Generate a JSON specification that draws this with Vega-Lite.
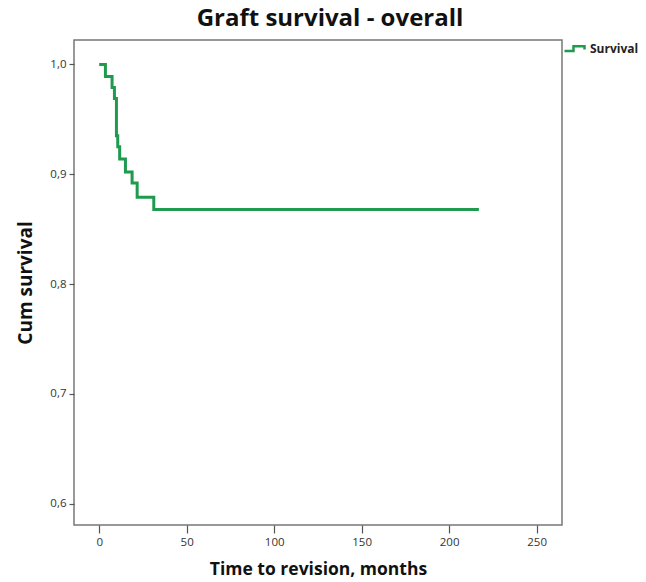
{
  "$schema": "https://vega.github.io/schema/vega-lite/v6.json",
  "autosize": "none",
  "width": 488,
  "height": 485,
  "padding": {"left": 74, "top": 40, "right": 84, "bottom": 57},
  "background": "white",
  "title": {
    "text": "Graft survival - overall",
    "font": "Open Sans",
    "fontSize": 24,
    "fontWeight": "bold",
    "color": "#111",
    "anchor": "middle",
    "dx": 12,
    "offset": 6
  },
  "config": {
    "view": {"stroke": "#777", "strokeWidth": 1.5},
    "axis": {
      "domain": false,
      "grid": false,
      "tickColor": "#555",
      "tickWidth": 1.2,
      "labelFont": "Open Sans",
      "labelFontSize": 11.5,
      "labelColor": "#333",
      "titleFont": "Open Sans",
      "titleFontWeight": "bold",
      "titleColor": "#111"
    }
  },
  "data": {
    "values": [
      {"t": 0, "s": 1.0, "g": "Survival"},
      {"t": 3.55, "s": 0.989, "g": "Survival"},
      {"t": 7.36, "s": 0.979, "g": "Survival"},
      {"t": 8.7, "s": 0.969, "g": "Survival"},
      {"t": 9.85, "s": 0.935, "g": "Survival"},
      {"t": 10.6, "s": 0.925, "g": "Survival"},
      {"t": 11.7, "s": 0.914, "g": "Survival"},
      {"t": 15.0, "s": 0.902, "g": "Survival"},
      {"t": 18.8, "s": 0.892, "g": "Survival"},
      {"t": 21.7, "s": 0.879, "g": "Survival"},
      {"t": 31.2, "s": 0.868, "g": "Survival"},
      {"t": 217, "s": 0.868, "g": "Survival"}
    ]
  },
  "mark": {"type": "line", "interpolate": "step-after", "strokeWidth": 3},
  "encoding": {
    "x": {
      "field": "t",
      "type": "quantitative",
      "scale": {"domain": [-14.4, 264.5], "nice": false, "zero": false},
      "axis": {
        "values": [0, 50, 100, 150, 200, 250],
        "tickSize": 8,
        "labelPadding": 3,
        "title": "Time to revision, months",
        "titleFontSize": 17.5,
        "titlePadding": 13
      }
    },
    "y": {
      "field": "s",
      "type": "quantitative",
      "scale": {"domain": [0.5806, 1.0223], "nice": false, "zero": false},
      "axis": {
        "values": [0.6, 0.7, 0.8, 0.9, 1.0],
        "labelExpr": "replace(format(datum.value, '.1f'), '.', ',')",
        "tickSize": 5,
        "labelPadding": 3,
        "title": "Cum survival",
        "titleFontSize": 19,
        "titlePadding": 14
      }
    },
    "color": {
      "field": "g",
      "type": "nominal",
      "scale": {"domain": ["Survival"], "range": ["#1f9a4e"]},
      "legend": {
        "title": null,
        "orient": "none",
        "legendX": 489,
        "legendY": -3,
        "symbolType": "M-1,0.25 L-0.1,0.25 L-0.1,-0.22 L1,-0.22 L1,0.1",
        "symbolSize": 400,
        "symbolStrokeWidth": 2.5,
        "labelFont": "Open Sans",
        "labelFontSize": 12,
        "labelFontWeight": "bold",
        "labelColor": "#222",
        "labelOffset": 4
      }
    }
  }
}
